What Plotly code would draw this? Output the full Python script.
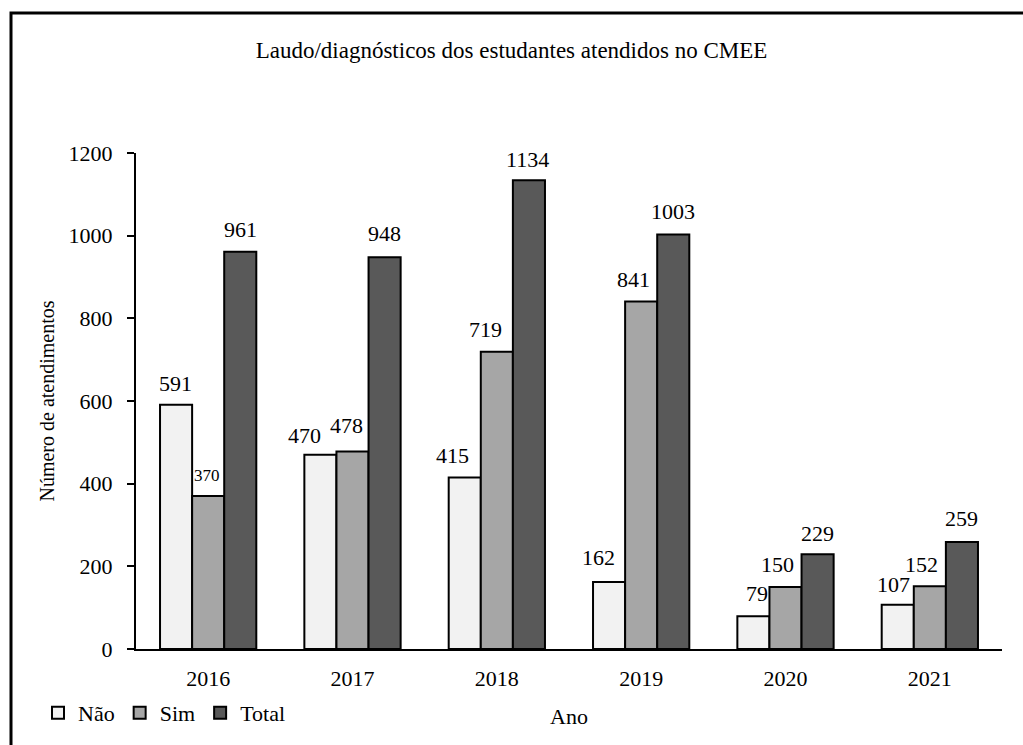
import plotly.graph_objects as go

anos = ["2016", "2017", "2018", "2019", "2020", "2021"]
nao = [591, 470, 415, 162, 79, 107]
sim = [370, 478, 719, 841, 150, 152]
total = [961, 948, 1134, 1003, 229, 259]

series = [("Não", nao, "#f2f2f2"), ("Sim", sim, "#a6a6a6"), ("Total", total, "#595959")]

# label placement tweaks (pixels), as in the reference
label_dx = {"Não": [-1, -16, -12, -11, 4, -4], "Sim": [-1, -6, -11, -8, -8, -8], "Total": [0, 0, -1, 0, 0, 0]}
label_dy = {"Não": [21, 19, 22, 25, 23, 20], "Sim": [21, 26, 22, 22, 23, 22], "Total": [22, 24, 21, 23, 21, 23]}

FONT = "Liberation Serif, Times New Roman, serif"

L, R, T, B = 136, 21, 153, 96
W, H = 1023, 745
pw, ph = W - L - R, H - T - B
BARGAP = 0.333
bar_px = pw / len(anos) * (1 - BARGAP) / 3

fig = go.Figure()
annotations = []
for i, (name, vals, color) in enumerate(series):
    fig.add_trace(go.Bar(
        name=name, x=anos, y=vals,
        marker=dict(color=color, line=dict(color="black", width=2)),
    ))
    for j, v in enumerate(vals):
        small = (name == "Sim" and j == 0)
        annotations.append(dict(
            x=j, y=v, xref="x", yref="y", text=str(v), showarrow=False,
            xshift=(i - 1) * bar_px + label_dx[name][j], yshift=label_dy[name][j],
            yanchor="middle",
            font=dict(family=FONT, size=17 if small else 22, color="black"),
        ))

fig.update_layout(
    width=W, height=H,
    margin=dict(l=L, r=R, t=T, b=B, autoexpand=False),
    paper_bgcolor="white", plot_bgcolor="white",
    font=dict(family=FONT, size=22, color="black"),
    barmode="group", bargap=BARGAP, bargroupgap=0,
    title=dict(text="Laudo/diagnósticos dos estudantes atendidos no CMEE",
               x=0.5, xanchor="center", y=1 - 50 / H, yanchor="middle",
               font=dict(family=FONT, size=23, color="black")),
    xaxis=dict(type="category", range=[-0.5, len(anos) - 0.5],
               showline=True, linecolor="black", linewidth=2, ticks="",
               ticklabelstandoff=9, tickfont=dict(size=22),
               title=dict(text="Ano", standoff=18, font=dict(size=22)),
               showgrid=False),
    yaxis=dict(range=[0, 1200], dtick=200, showline=True, linecolor="black", linewidth=2,
               ticks="outside", ticklen=7, tickwidth=2, tickcolor="black",
               ticklabelstandoff=10, tickfont=dict(size=22),
               showgrid=False, zeroline=False,
               title=dict(text="Número de atendimentos", standoff=9, font=dict(size=20))),
    legend=dict(orientation="h", x=(38 - L) / pw, xanchor="left",
                y=-(713 - 649) / ph, yanchor="middle",
                font=dict(family=FONT, size=22), itemwidth=30,
                bgcolor="rgba(0,0,0,0)", traceorder="normal"),
    annotations=annotations,
    shapes=[dict(type="rect", xref="paper", yref="paper",
                 x0=(11 - L) / pw, x1=(1040 - L) / pw,
                 y0=-(770 - 649) / ph, y1=(649 - 13) / ph,
                 line=dict(color="black", width=3))],
)

fig.write_html("out.html", config={"displayModeBar": False},
               post_script="document.body.style.margin='0';document.body.style.overflow='hidden';")
